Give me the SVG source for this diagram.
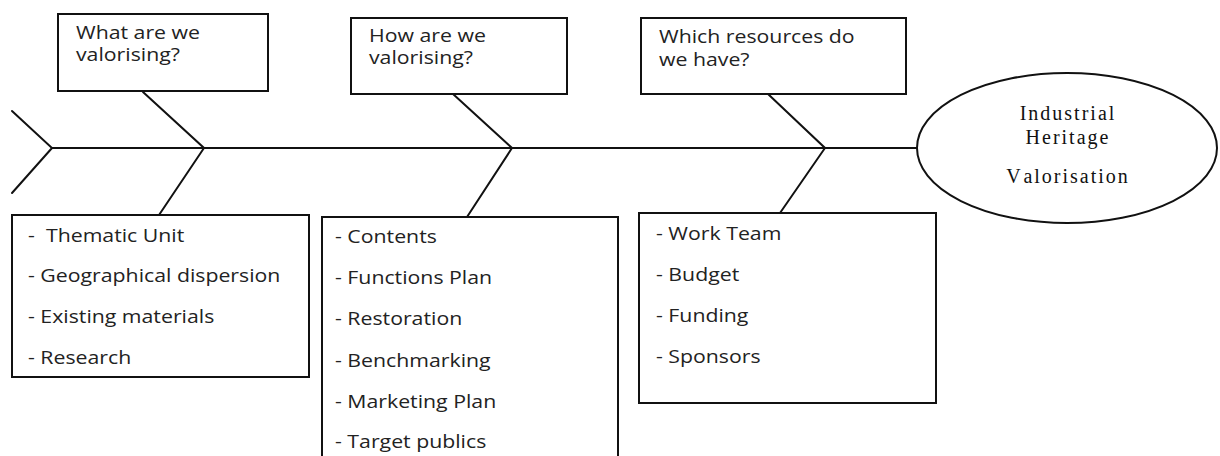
<svg xmlns="http://www.w3.org/2000/svg" width="1220" height="456" viewBox="0 0 1220 456">
  <style>
    .box { fill: #ffffff; stroke: #111111; stroke-width: 2; }
    .bone { fill: none; stroke: #111111; stroke-width: 2; stroke-linecap: round; }
    .q, .item { font-family: "Open Sans", "Liberation Sans", sans-serif; font-size: 19px; fill: #222222; }
    .head { font-family: "Liberation Serif", "Times New Roman", serif; font-size: 20px; fill: #111111; letter-spacing: 2px; text-anchor: middle; }
  </style>
  <rect width="1220" height="456" fill="#ffffff"/>

  <!-- fishbone spine, tail and rib lines -->
  <g id="connectors">
    <line class="bone" x1="52" y1="148" x2="917" y2="148"/>
    <polyline class="bone" points="12,111 52,148 12,193"/>
    <polyline class="bone" points="143,92 204,148 159,215"/>
    <polyline class="bone" points="453,94 512,148 467,217"/>
    <polyline class="bone" points="768,94 825,148 780,213"/>
  </g>

  <!-- head of the fish -->
  <g id="head">
    <ellipse cx="1067" cy="148" rx="150" ry="75" fill="#ffffff" stroke="#111111" stroke-width="2"/>
    <text class="head" x="1068" y="120">Industrial</text>
    <text class="head" x="1068" y="144">Heritage</text>
    <text class="head" x="1068" y="183"><tspan>V</tspan><tspan dx="3">alorisation</tspan></text>
  </g>

  <!-- question boxes above the spine (text is slightly widened) -->
  <g id="q-what">
    <rect class="box" x="58" y="14" width="210" height="77"/>
    <g transform="translate(76 0) scale(1.12 1)">
      <text class="q" x="0" y="39">What are we</text>
      <text class="q" x="0" y="61">valorising?</text>
    </g>
  </g>
  <g id="q-how">
    <rect class="box" x="351" y="18" width="216" height="76"/>
    <g transform="translate(369 0) scale(1.12 1)">
      <text class="q" x="0" y="42">How are we</text>
      <text class="q" x="0" y="64">valorising?</text>
    </g>
  </g>
  <g id="q-which">
    <rect class="box" x="641" y="18" width="265" height="76"/>
    <g transform="translate(659 0) scale(1.12 1)">
      <text class="q" x="0" y="43">Which resources do</text>
      <text class="q" x="0" y="66">we have?</text>
    </g>
  </g>

  <!-- answer boxes below the spine -->
  <g id="a-what">
    <rect class="box" x="12" y="215" width="297" height="162"/>
    <g transform="translate(28 0) scale(1.12 1)">
      <text class="item" x="0" y="242">- <tspan dx="5">Thematic Unit</tspan></text>
      <text class="item" x="0" y="282">- Geographical dispersion</text>
      <text class="item" x="0" y="323">- Existing materials</text>
      <text class="item" x="0" y="364">- Research</text>
    </g>
  </g>
  <g id="a-how">
    <rect class="box" x="322" y="217" width="296" height="260"/>
    <g transform="translate(335 0) scale(1.12 1)">
      <text class="item" x="0" y="243">- Contents</text>
      <text class="item" x="0" y="284">- Functions Plan</text>
      <text class="item" x="0" y="325">- Restoration</text>
      <text class="item" x="0" y="367">- Benchmarking</text>
      <text class="item" x="0" y="408">- Marketing Plan</text>
      <text class="item" x="0" y="448">- Target publics</text>
    </g>
  </g>
  <g id="a-which">
    <rect class="box" x="639" y="213" width="297" height="190"/>
    <g transform="translate(656 0) scale(1.12 1)">
      <text class="item" x="0" y="240">- Work Team</text>
      <text class="item" x="0" y="281">- Budget</text>
      <text class="item" x="0" y="322">- Funding</text>
      <text class="item" x="0" y="363">- Sponsors</text>
    </g>
  </g>
</svg>
